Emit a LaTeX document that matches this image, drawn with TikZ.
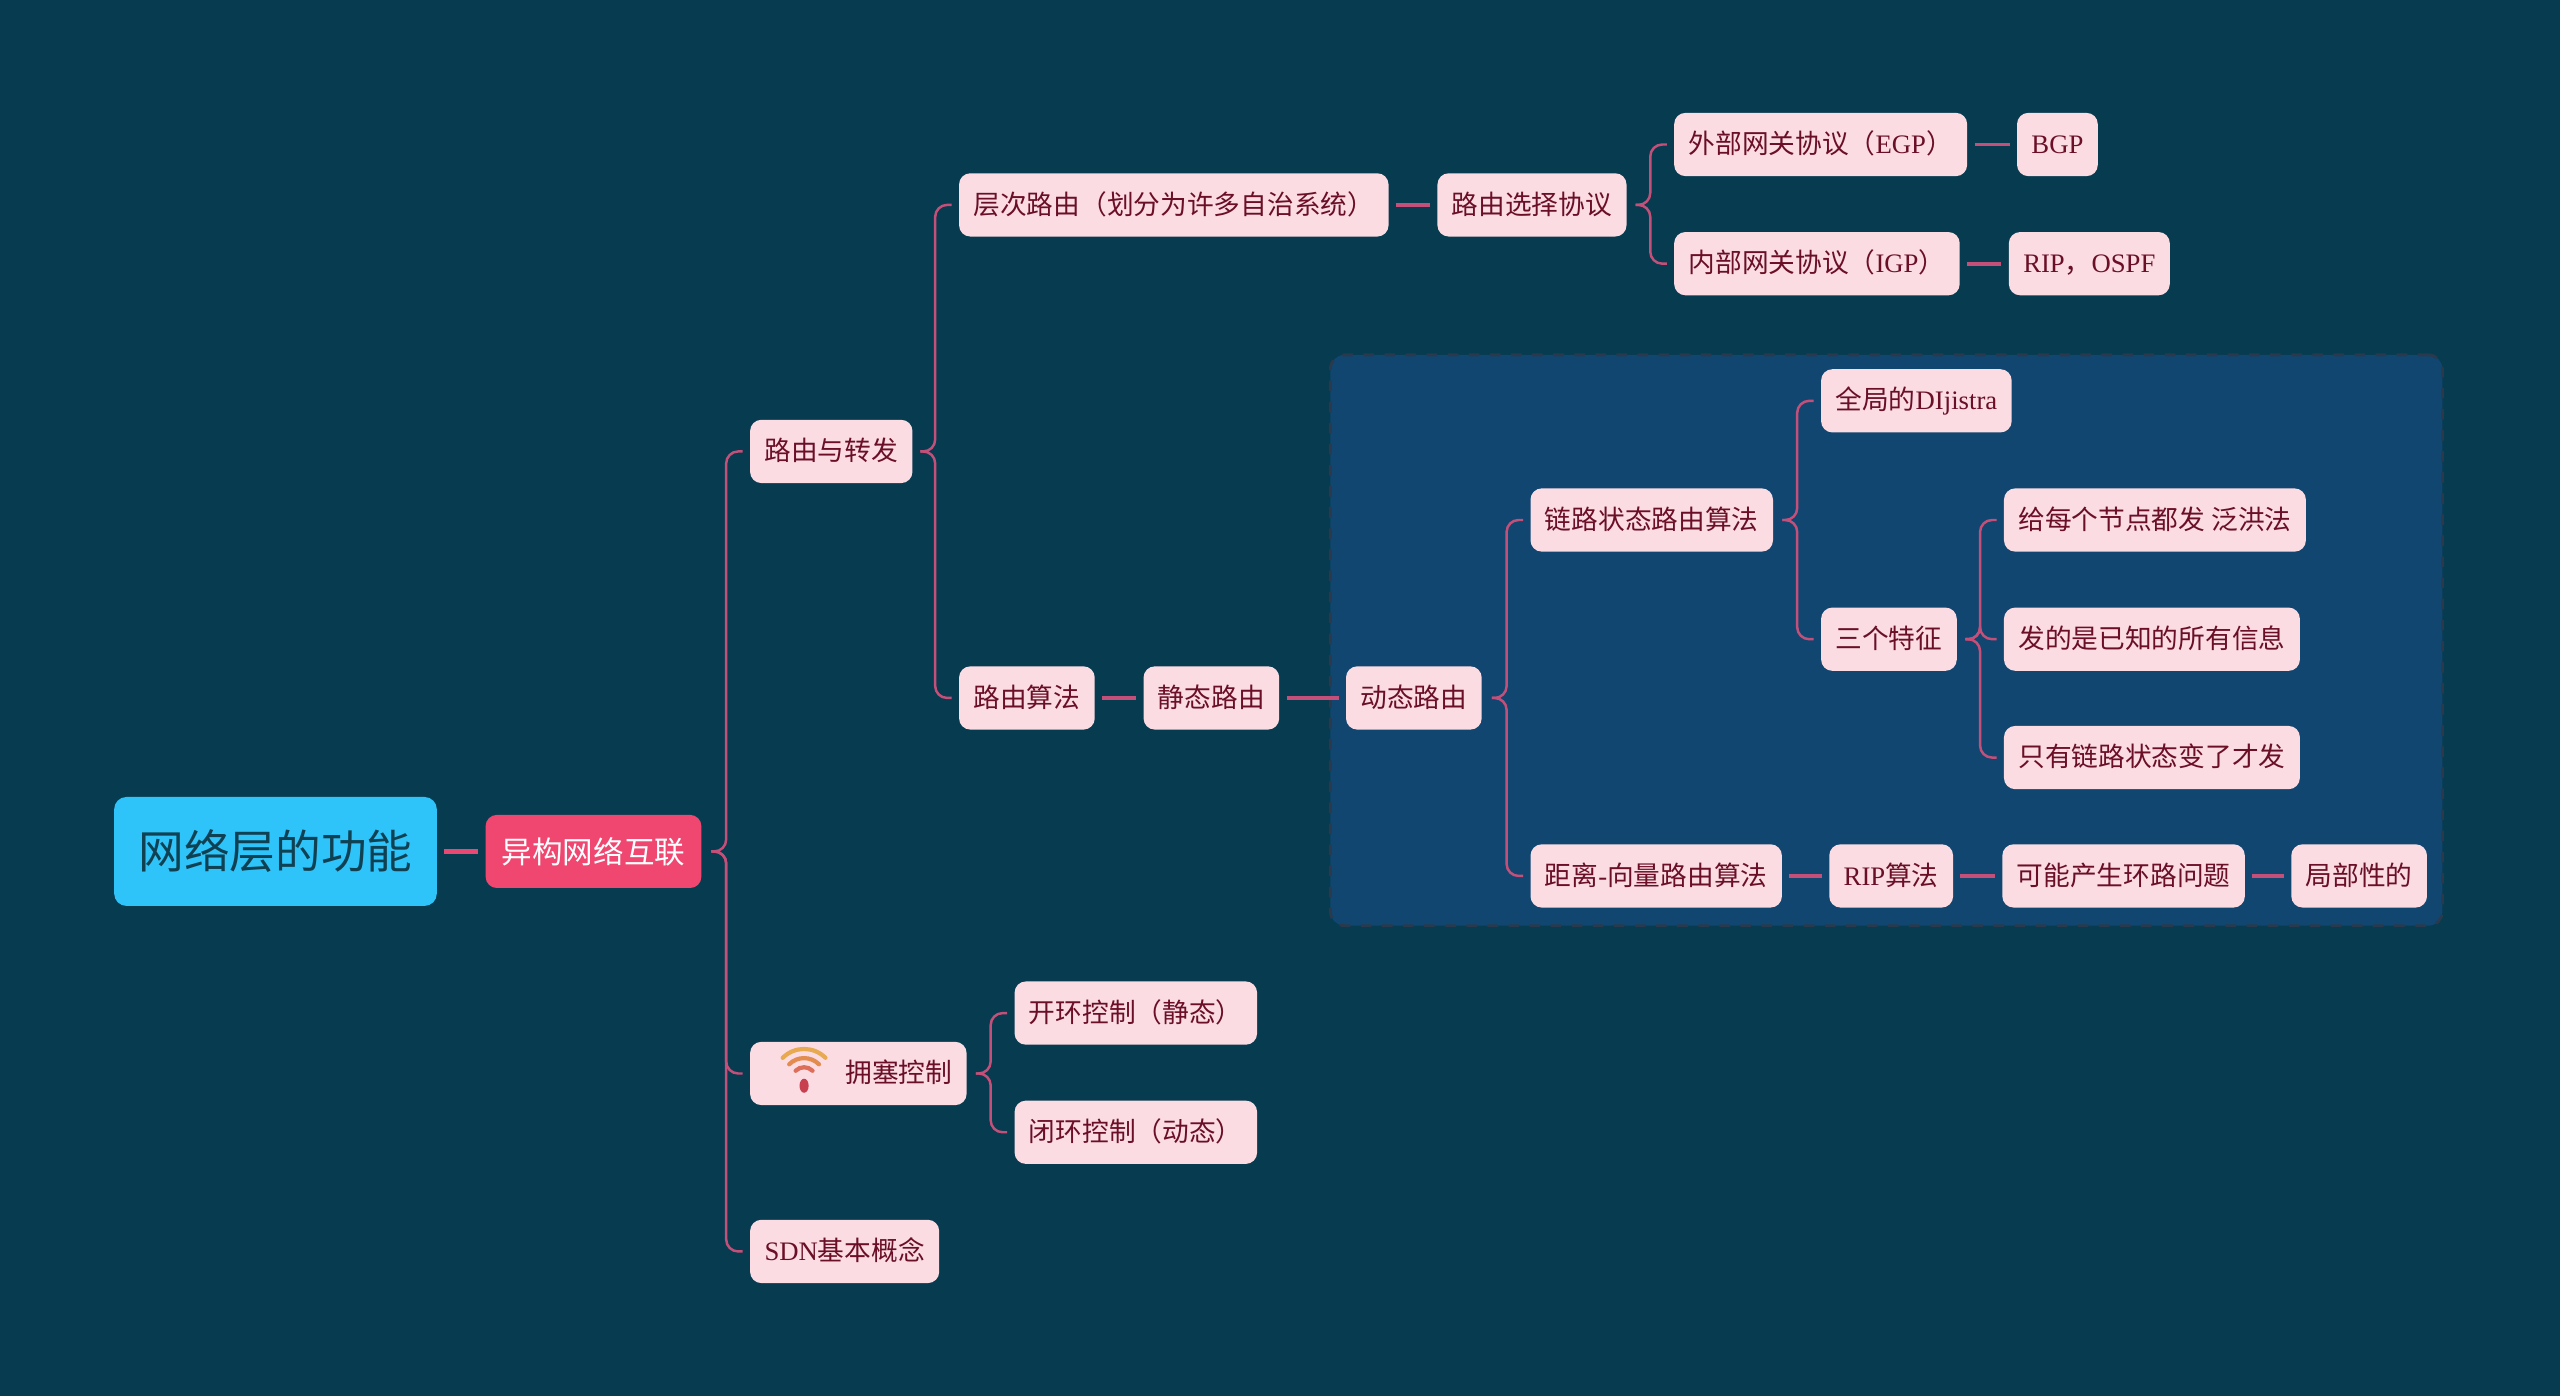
\documentclass[tikz,border=0pt]{standalone}
\usepackage{fontspec}
\setmainfont{Noto Sans CJK SC}
\newfontfamily\latinface{Liberation Serif}
\newcommand{\en}[1]{{\latinface #1}}
\usetikzlibrary{positioning, calc, shapes.geometric}
\definecolor{mybg}{RGB}{7,59,79}
\definecolor{mypanel}{RGB}{16,70,112}
\definecolor{myedge}{RGB}{42,58,76}
\definecolor{myblue}{RGB}{46,196,250}
\definecolor{myrootink}{RGB}{15,65,82}
\definecolor{myred}{RGB}{240,71,112}
\definecolor{mypink}{RGB}{251,220,227}
\definecolor{myink}{RGB}{107,15,38}
\definecolor{mylink}{RGB}{196,80,122}
\definecolor{mywifia}{RGB}{232,170,80}
\definecolor{mywifib}{RGB}{226,140,80}
\definecolor{mywific}{RGB}{220,110,90}
\definecolor{mywifid}{RGB}{200,64,80}
\tikzset{
  rootbox/.style={rectangle, fill=myblue, text=myrootink, anchor=west,
    font=\fontsize{13}{15}\selectfont, inner xsep=6.9pt, inner ysep=0pt,
    minimum height=31pt, rounded corners=3.5pt},
  hubbox/.style={rectangle, fill=myred, text=white, anchor=west,
    font=\fontsize{8.7}{10}\selectfont, inner xsep=4.6pt, inner ysep=0pt,
    minimum height=20.8pt, rounded corners=3.2pt},
  topic/.style={rectangle, fill=mypink, text=myink, anchor=west,
    font=\fontsize{7.6}{9}\selectfont, inner xsep=4.1pt, inner ysep=0pt,
    text height=6.5pt, text depth=1.3pt, minimum height=18pt, rounded corners=3.2pt},
  panelbox/.style={rectangle, draw=myedge, dashed, fill=mypanel, anchor=north west,
    line width=0.8pt, minimum width=316.4pt, minimum height=162.4pt, rounded corners=4pt},
  link/.style={color=mylink, line width=1.1pt, shorten >=1.9pt, shorten <=1.9pt},
  fork/.style={color=mylink, line width=0.7pt, rounded corners=3.4pt, to path={
    let \p1=(\tikztostart.east), \p2=(\tikztotarget.west) in
    (\x2-10.8pt,\y1) -- (\x2-6.6pt,\y1) -- (\x2-6.6pt,\y2) -- (\x2-1.9pt,\y2)}}
}

\begin{document}
\begin{tikzpicture}[x=0.16327mm, y=-0.16327mm]
  \fill[mybg] (0,0) rectangle (1568,855);
  \node[panelbox] (panel) at (814,216.5) {};

  % --- left side ---
  \node[rootbox] (root) at (69.5,521.5) {网络层的功能};
  \node[hubbox] (hetero) at (297,521.5) {异构网络互联};
  \node[topic] (routing) at (459,276.5) {路由与转发};
  \node[topic, minimum width=61.6pt] (congest) at (459,657.5) {\hspace*{23pt}拥塞控制};
  \node[topic] (sdn) at (459,766.5) {\en{SDN}基本概念};

  % --- upper branch ---
  \node[topic] (layered) at (587,125.5) {层次路由（划分为许多自治系统）};
  \node[topic] (select) at (880,125.5) {路由选择协议};
  \node[topic] (egp) at (1025,88.5) {外部网关协议（\en{EGP}）};
  \node[topic] (bgp) at (1235,88.5) {\en{BGP}};
  \node[topic] (igp) at (1025,161.5) {内部网关协议（\en{IGP}）};
  \node[topic] (ospf) at (1230,161.5) {\en{RIP}，\en{OSPF}};

  % --- algorithms ---
  \node[topic] (algo) at (587,427.5) {路由算法};
  \node[topic] (static) at (700,427.5) {静态路由};
  \node[topic] (dynamic) at (824,427.5) {动态路由};
  \node[topic] (state) at (937,318.5) {链路状态路由算法};
  \node[topic] (dijkstra) at (1115,245.5) {全局的\en{DIjistra}};
  \node[topic] (traits) at (1115,391.5) {三个特征};
  \node[topic] (flood) at (1227,318.5) {给每个节点都发 泛洪法};
  \node[topic] (known) at (1227,391.5) {发的是已知的所有信息};
  \node[topic] (change) at (1227,464) {只有链路状态变了才发};
  \node[topic] (vector) at (937,536.5) {距离\en{-}向量路由算法};
  \node[topic] (rip) at (1120,536.5) {\en{RIP}算法};
  \node[topic] (loop) at (1226,536.5) {可能产生环路问题};
  \node[topic] (local) at (1403,536.5) {局部性的};

  % --- congestion ---
  \node[topic] (openloop) at (621,620.5) {开环控制（静态）};
  \node[topic] (closeloop) at (621,693.5) {闭环控制（动态）};

  % Signal icon
  \coordinate (wifi) at (492.5,661);
  \foreach \rad/\tone in {8.6pt/mywifia, 6pt/mywifib, 3.4pt/mywific} {
    \draw[color=\tone, line width=1.2pt, line cap=round]
      ([shift={(45:\rad)}]wifi) arc[start angle=45, end angle=135, radius=\rad];
  }
  \node[ellipse, fill=mywifid, inner sep=0pt, minimum width=2.6pt, minimum height=4pt] (wifidot) at (492.5,665) {};

  % Straight links
  \draw[link, line width=1.5pt, color=myred!85!mylink] (root) -- (hetero);
  \foreach \from/\to in {layered/select, egp/bgp, igp/ospf, algo/static, static/dynamic,
      vector/rip, rip/loop, loop/local} {
    \draw[link] (\from) -- (\to);
  }

  % Forks
  \foreach \from/\to in {hetero/routing, hetero/congest, hetero/sdn, routing/layered, routing/algo,
      select/egp, select/igp, dynamic/state, dynamic/vector, state/dijkstra, state/traits,
      traits/flood, traits/known, traits/change, congest/openloop, congest/closeloop} {
    \draw[fork] (\from) to (\to);
  }
\end{tikzpicture}
\end{document}
